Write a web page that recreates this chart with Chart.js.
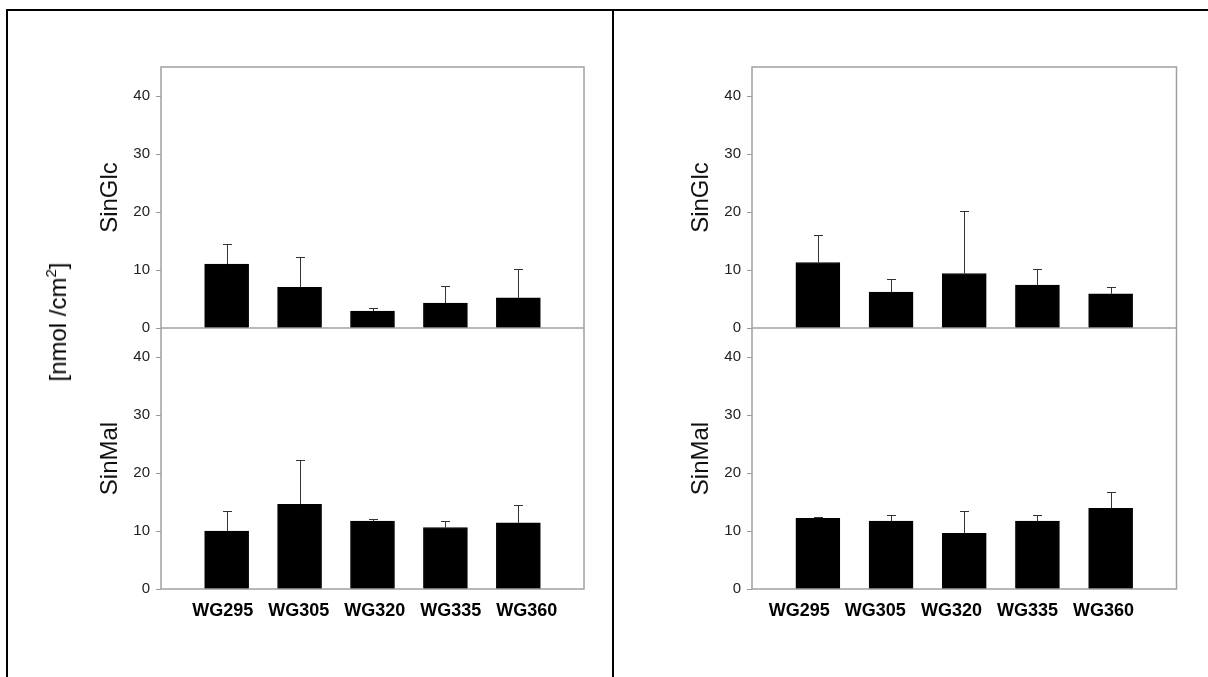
<!DOCTYPE html>
<html><head><meta charset="utf-8">
<script src="https://cdn.jsdelivr.net/npm/chart.js@4"></script>
<style>
html,body{margin:0;padding:0;background:#fff;width:1208px;height:677px;overflow:hidden;position:relative;font-family:"Liberation Sans",Arial,sans-serif}
.line{position:absolute;background:#000}
canvas{position:absolute}
#ylab{position:absolute;left:58px;top:322px;transform:translate(-50%,-50%) rotate(-90deg);font-size:24px;white-space:nowrap;color:#000;line-height:28px}
#ylab sup{font-size:15px;vertical-align:10px;line-height:0}
</style></head>
<body>
<canvas id="cL" width="612" height="677" style="left:0;top:0"></canvas>
<canvas id="cR" width="594" height="677" style="left:614px;top:0"></canvas>
<div class="line" style="left:6px;top:9px;width:1202px;height:2px"></div>
<div class="line" style="left:6px;top:9px;width:2px;height:668px"></div>
<div class="line" style="left:612px;top:9px;width:2px;height:668px"></div>
<div id="ylab">[nmol /cm<sup>2</sup>]</div>
<script>
const categories = ['WG295', 'WG305', 'WG320', 'WG335', 'WG360'];
const yTickValues = [0, 10, 20, 30, 40];

const leftGlc    = [11.0, 7.0, 2.9, 4.3, 5.2];
const leftGlcErr = [3.5, 5.3, 0.5, 3.0, 5.0];
const leftMal    = [10.0, 14.6, 11.7, 10.6, 11.4];
const leftMalErr = [3.4, 7.7, 0.4, 1.1, 3.0];

const rightGlc    = [11.3, 6.2, 9.4, 7.4, 5.9];
const rightGlcErr = [4.7, 2.3, 10.7, 2.8, 1.2];
const rightMal    = [12.2, 11.7, 9.6, 11.7, 13.9];
const rightMalErr = [0.3, 1.0, 3.8, 1.0, 2.8];

const FAM = '"Liberation Sans", Arial, sans-serif';
Chart.defaults.font.family = FAM;

const framePlugin = {
  id: 'frame',
  beforeDatasetsDraw(chart) {
    const {ctx, chartArea: a} = chart;
    const y0 = chart.scales.yTop.getPixelForValue(0);
    ctx.save();
    ctx.strokeStyle = '#a0a0a0';
    ctx.lineWidth = 1.5;
    ctx.strokeRect(a.left, a.top, a.right - a.left, a.bottom - a.top);
    ctx.beginPath();
    ctx.moveTo(a.left, y0);
    ctx.lineTo(a.right, y0);
    ctx.stroke();
    ctx.restore();
  }
};

const errPlugin = {
  id: 'errbars',
  afterDatasetsDraw(chart) {
    const ctx = chart.ctx;
    ctx.save();
    ctx.strokeStyle = '#333';
    ctx.lineWidth = 1;
    chart.data.datasets.forEach((ds, di) => {
      const meta = chart.getDatasetMeta(di);
      const ys = chart.scales[ds.yAxisID];
      ds.errors.forEach((e, i) => {
        const el = meta.data[i];
        const x = Math.round(el.x) + 0.5;
        const yv = el.y;
        const ye = Math.round(ys.getPixelForValue(ds.data[i].y + e)) + 0.5;
        ctx.beginPath();
        ctx.moveTo(x, yv);
        ctx.lineTo(x, ye);
        ctx.moveTo(x - 4.5, ye);
        ctx.lineTo(x + 4.5, ye);
        ctx.stroke();
      });
    });
    ctx.restore();
  }
};

function yAxis(title, weight) {
  return {
    type: 'linear', position: 'left', stack: 'col', stackWeight: 1, weight: weight,
    min: 0, max: 45,
    afterBuildTicks: s => { s.ticks = yTickValues.map(v => ({value: v})); },
    afterFit: s => { s.width = 70; },
    grid: {drawOnChartArea: false, drawTicks: true, tickLength: 5, color: '#999', lineWidth: 1},
    border: {display: false},
    ticks: {font: {size: 15, family: FAM}, color: '#222', padding: 6},
    title: {display: true, text: title, font: {size: 24, family: FAM}, color: '#111', padding: {top: 5, bottom: 0}}
  };
}

function makeChart(id, glc, glcErr, mal, malErr, pad, lblMin, lblMax) {
  const toXY = arr => arr.map((v, i) => ({x: i, y: v}));
  new Chart(document.getElementById(id), {
    type: 'bar',
    data: {
      datasets: [
        {label: 'SinGlc', data: toXY(glc), errors: glcErr, xAxisID: 'x', yAxisID: 'yTop',
         backgroundColor: '#000', borderColor: '#000', borderWidth: 1, barThickness: 44, grouped: false},
        {label: 'SinMal', data: toXY(mal), errors: malErr, xAxisID: 'x', yAxisID: 'yBot',
         backgroundColor: '#000', borderColor: '#000', borderWidth: 1, barThickness: 44, grouped: false}
      ]
    },
    options: {
      responsive: false, animation: false, devicePixelRatio: 1,
      layout: {padding: pad},
      plugins: {legend: {display: false}, tooltip: {enabled: false}},
      scales: {
        x: {type: 'linear', min: -0.9, max: 4.9, offset: false, display: false, grid: {offset: false}},
        yBot: yAxis('SinMal', 0),
        yTop: yAxis('SinGlc', 1),
        xl: {
          type: 'linear', position: 'bottom', min: lblMin, max: lblMax, offset: false,
          afterBuildTicks: s => { s.ticks = categories.map((c, i) => ({value: i})); },
          afterFit: s => { s.height = 40; },
          grid: {display: false, drawTicks: false, offset: false},
          border: {display: false},
          ticks: {callback: v => categories[v], font: {size: 18, weight: 'bold', family: FAM},
                  color: '#000', padding: 11, autoSkip: false, maxRotation: 0}
        }
      }
    },
    plugins: [framePlugin, errPlugin]
  });
}

makeChart('cL', leftGlc, leftGlcErr, leftMal, leftMalErr,
  {left: 91, right: 28, top: 67, bottom: 48}, -0.812, 4.752);
makeChart('cR', rightGlc, rightGlcErr, rightMal, rightMalErr,
  {left: 68, right: 31.5, top: 67, bottom: 48}, -0.621, 4.958);
</script>
</body></html>
